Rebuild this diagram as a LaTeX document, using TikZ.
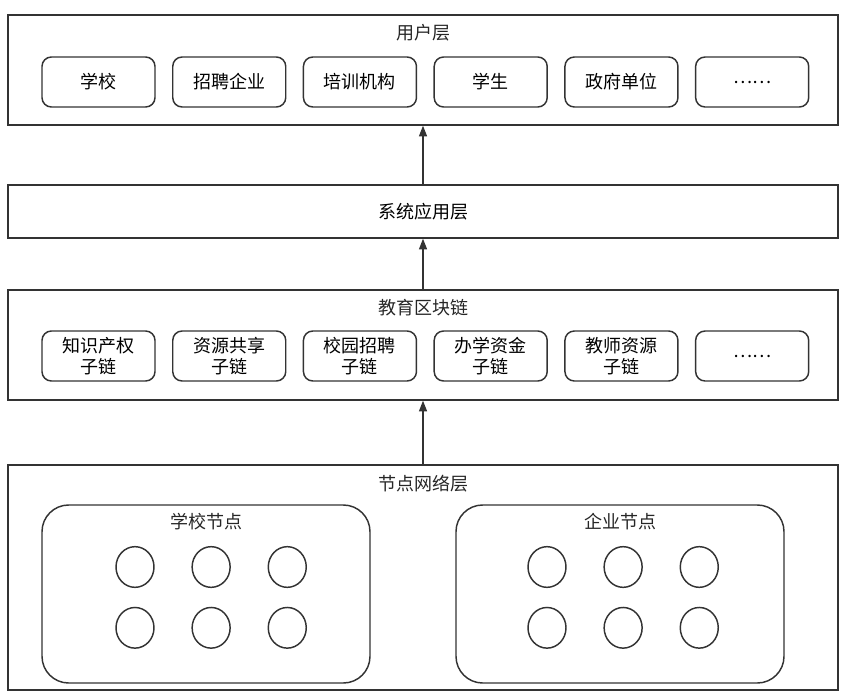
\documentclass[tikz,border=0pt]{standalone}
\usepackage{fontspec}
\setmainfont{Noto Sans CJK SC}
\usetikzlibrary{arrows.meta, positioning, shapes.geometric}

\begin{document}
\begin{tikzpicture}[
  x=0.75pt, y=-0.75pt,
  font=\fontsize{13.5}{16}\selectfont,
  layer/.style={rectangle, draw=black!80, line width=1.1pt, minimum width=622.5pt, inner sep=0pt},
  item/.style={rectangle, draw=black!80, line width=1.1pt, minimum width=84.75pt, minimum height=37.5pt, rounded corners=7pt, align=center, inner sep=1pt, font=\fontsize{13.5}{15.5}\selectfont},
  group/.style={rectangle, draw=black!80, line width=1.1pt, minimum width=246pt, minimum height=133.5pt, rounded corners=20pt},
  peer/.style={ellipse, draw=black!80, line width=1.1pt, minimum width=28.5pt, minimum height=30.5pt, inner sep=0pt},
  title/.style={text=black!85, inner sep=0pt},
  arrow/.style={-{Triangle[length=8pt, width=6pt]}, line width=1.1pt, draw=black!80}
]
\useasboundingbox (0,0) rectangle (846,696);

% layers
\node[layer, minimum height=82.5pt] (user) at (423,70) {};
\node[layer, minimum height=39.75pt] (app) at (423,211.5) {系统应用层};
\node[layer, minimum height=82.5pt] (chain) at (423,345) {};
\node[layer, minimum height=168.75pt] (net) at (423,577.5) {};

\node[title] (usertitle) at (423,33) {用户层};
\node[title] (chaintitle) at (423,308) {教育区块链};
\node[title] (nettitle) at (423,484) {节点网络层};

% user layer
\node[item] (school) at (98.5,82) {学校};
\node[item, right=12.2pt of school] (firm) {招聘企业};
\node[item, right=12.2pt of firm] (train) {培训机构};
\node[item, right=12.2pt of train] (student) {学生};
\node[item, right=12.2pt of student] (gov) {政府单位};
\node[item, right=12.2pt of gov] (usermore) {……};

% sub chains
\node[item] (ip) at (98.5,356) {知识产权\\子链};
\node[item, right=12.2pt of ip] (share) {资源共享\\子链};
\node[item, right=12.2pt of share] (hire) {校园招聘\\子链};
\node[item, right=12.2pt of hire] (fund) {办学资金\\子链};
\node[item, right=12.2pt of fund] (teacher) {教师资源\\子链};
\node[item, right=12.2pt of teacher] (chainmore) {……};

% node network
\node[group] (schoolgrp) at (206,594) {};
\node[group] (firmgrp) at (620,594) {};
\node[title] (schooltitle) at (206,522) {学校节点};
\node[title] (firmtitle) at (620,522) {企业节点};

\node[peer] (s1) at (135,567) {};
\node[peer, right=27.5pt of s1] (s2) {};
\node[peer, right=27.5pt of s2] (s3) {};
\node[peer, below=14pt of s1] (s4) {};
\node[peer, right=27.5pt of s4] (s5) {};
\node[peer, right=27.5pt of s5] (s6) {};

\node[peer] (f1) at (547,567) {};
\node[peer, right=27.5pt of f1] (f2) {};
\node[peer, right=27.5pt of f2] (f3) {};
\node[peer, below=14pt of f1] (f4) {};
\node[peer, right=27.5pt of f4] (f5) {};
\node[peer, right=27.5pt of f5] (f6) {};

\draw[arrow] (app) -- (user);
\draw[arrow] (chain) -- (app);
\draw[arrow] (net) -- (chain);

\end{tikzpicture}
\end{document}
